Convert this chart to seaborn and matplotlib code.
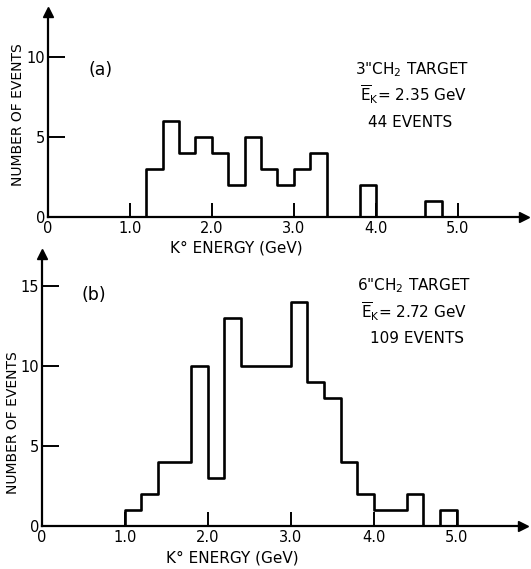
import numpy as np
import pandas as pd
import matplotlib
matplotlib.use("Agg")
import matplotlib.pyplot as plt
import seaborn as sns

# Data (bin width 0.2 GeV)
bins_a = [1.2, 1.4, 1.6, 1.8, 2.0, 2.2, 2.4, 2.6, 2.8, 3.0, 3.2, 3.4, 3.6, 3.8, 4.0, 4.2, 4.4, 4.6]
counts_a = [3, 6, 4, 5, 4, 2, 5, 3, 2, 3, 4, 0, 0, 2, 0, 0, 0, 1]
bins_b = [1.0, 1.2, 1.4, 1.6, 1.8, 2.0, 2.2, 2.4, 2.6, 2.8, 3.0, 3.2, 3.4, 3.6, 3.8, 4.0, 4.2, 4.4, 4.6, 4.8]
counts_b = [1, 2, 4, 4, 10, 3, 13, 10, 10, 10, 14, 9, 8, 4, 2, 1, 1, 2, 0, 1]
bin_width = 0.2

x_ticks = [1.0, 2.0, 3.0, 4.0, 5.0]
x_ticklabels = ["1.0", "2.0", "3.0", "4.0", "5.0"]
info_a = ['3"CH$_2$ TARGET', r'$\overline{\mathrm{E}}_{\mathrm{K}}$= 2.35 GeV', "44 EVENTS"]
info_b = ['6"CH$_2$ TARGET', r'$\overline{\mathrm{E}}_{\mathrm{K}}$= 2.72 GeV', "109 EVENTS"]

sns.set_style("white")
plt.rcParams["font.family"] = ["DejaVu Sans"]
plt.rcParams["mathtext.fontset"] = "dejavusans"
plt.rcParams["text.color"] = "black"
plt.rcParams["axes.labelcolor"] = "black"
plt.rcParams["xtick.color"] = "black"
plt.rcParams["ytick.color"] = "black"

fig = plt.figure(figsize=(5.31, 5.69), dpi=100)
ax_a = fig.add_axes([0.090, 0.619, 0.896, 0.360])
ax_b = fig.add_axes([0.079, 0.076, 0.906, 0.478])


def draw_panel(ax, bins, counts, ymax, yticks, tag, info, tag_pos, info_pos, xlab_xy, ylab_xy):
    # pad one empty bin each side so the step outline drops to the baseline
    lo = round(bins[0] - bin_width, 2)
    hi = round(bins[-1] + bin_width, 2)
    x = [lo] + list(bins) + [hi]
    w = [0] + list(counts) + [0]
    df = pd.DataFrame({"energy": np.array(x) + bin_width / 2, "n": w})
    edges = [round(b, 2) for b in x] + [round(hi + bin_width, 2)]
    sns.histplot(data=df, x="energy", weights="n", bins=edges, element="step",
                 fill=False, color="black", linewidth=1.9, ax=ax)
    ax.patch.set_alpha(0)
    ax.set_xlim(0, 5.8)
    ax.set_ylim(0, ymax)
    for s in ["top", "right"]:
        ax.spines[s].set_visible(False)
    for s in ["left", "bottom"]:
        ax.spines[s].set_linewidth(1.6)
        ax.spines[s].set_color("black")
    ax.plot(1, 0, ">k", markersize=7, transform=ax.get_yaxis_transform(), clip_on=False)
    ax.plot(0, 1, "^k", markersize=7, transform=ax.get_xaxis_transform(), clip_on=False)
    ax.set_xticks([0] + x_ticks)
    ax.set_xticklabels(["0"] + x_ticklabels, fontsize=10.5)
    ax.set_yticks(yticks)
    ax.set_yticklabels([str(t) for t in yticks], fontsize=10.5)
    ax.tick_params(axis="x", bottom=True, direction="in", length=10, width=1.4, pad=3)
    ax.tick_params(axis="y", left=True, direction="in", length=12, width=1.4, pad=2)
    ax.xaxis.get_major_ticks()[0].tick1line.set_visible(False)
    ax.yaxis.get_major_ticks()[0].tick1line.set_visible(False)
    ax.set_xlabel("K° ENERGY (GeV)", fontsize=11)
    ax.xaxis.set_label_coords(*xlab_xy)
    ax.set_ylabel("NUMBER OF EVENTS", fontsize=10)
    ax.yaxis.set_label_coords(*ylab_xy)
    ax.text(tag_pos[0], tag_pos[1], tag, fontsize=12.5, va="center")
    ax.text(info_pos[0], info_pos[1], info[0], fontsize=11, va="center")
    ax.text(info_pos[0] + 0.05, info_pos[1] - 1.6, info[1], fontsize=11, va="center")
    ax.text(info_pos[0] + 0.15, info_pos[1] - 3.3, info[2], fontsize=11, va="center")


draw_panel(ax_a, bins_a, counts_a, 12.8, [0, 5, 10], "(a)", info_a, (0.5, 9.2), (3.75, 9.2),
           (2.3 / 5.8, -0.115), (-0.048, 0.5))
draw_panel(ax_b, bins_b, counts_b, 17.0, [0, 5, 10, 15], "(b)", info_b, (0.48, 14.4), (3.8, 15.0),
           (2.3 / 5.8, -0.09), (-0.045, 0.38))

fig.savefig("out.png", dpi=100)
